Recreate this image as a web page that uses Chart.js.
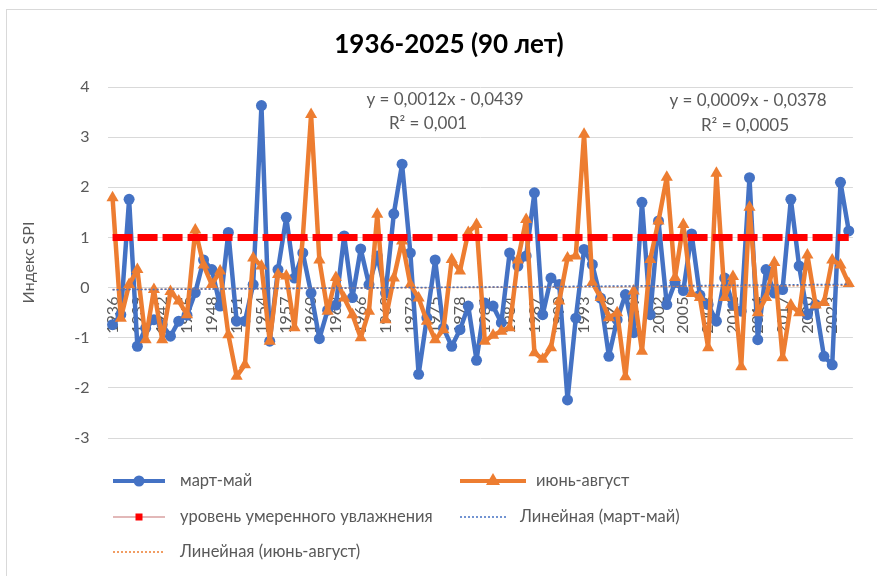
<!DOCTYPE html>
<html>
<head>
<meta charset="utf-8">
<script src="https://cdn.jsdelivr.net/npm/chart.js@4.4.1/dist/chart.umd.min.js"></script>
<style>
  body { margin: 0; background: #fff; }
  #bingkai { position: absolute; left: 6px; top: 9px; width: 900px; height: 600px; border: 1px solid #d9d9d9; }
  #wadah { position: absolute; left: 0; top: 0; width: 877px; height: 576px; }
</style>
</head>
<body>
<div id="bingkai"></div>
<div id="wadah"><canvas id="spi" width="877" height="576"></canvas></div>
<script>
"use strict";

// годы 1936-2025
var tahun = [];
for (var t = 1936; t <= 2025; t++) tahun.push(String(t));

// SPI март-май
var martMai = [
  -0.74, -0.54, 1.76, -1.17, -0.81, -0.64, -0.74, -0.97, -0.67, -0.55,
  -0.1, 0.55, 0.36, -0.37, 1.1, -0.67, -0.67, 0.06, 3.63, -1.07,
  0.36, 1.4, 0.19, 0.69, -0.11, -1.02, -0.45, -0.35, 1.03, -0.2,
  0.77, 0.06, 0.63, -0.11, 1.47, 2.46, 0.69, -1.73, -0.6, 0.55,
  -0.81, -1.17, -0.84, -0.37, -1.45, -0.31, -0.37, -0.7, 0.69, 0.43,
  0.63, 1.89, -0.54, 0.19, 0.06, -2.24, -0.61, 0.76, 0.46, -0.21,
  -1.37, -0.64, -0.14, -0.9, 1.7, -0.54, 1.33, -0.34, 0.1, -0.06,
  1.07, -0.15, -0.34, -0.67, 0.19, -0.34, -0.47, 2.19, -1.04, 0.36,
  -0.11, -0.04, 1.76, 0.43, -0.54, -0.34, -1.37, -1.54, 2.1, 1.13
];

// SPI июнь-август
var iyunAvgust = [
  1.79, -0.61, 0.06, 0.36, -1.04, -0.04, -1.04, -0.08, -0.27, -0.54,
  1.15, 0.45, 0.06, 0.33, -0.94, -1.77, -1.54, 0.59, 0.43, -1.07,
  0.26, 0.23, -0.8, 1.0, 3.45, 0.55, -0.47, 0.2, -0.21, -0.54,
  -1.0, -0.47, 1.46, -0.64, 0.19, 0.93, 0.06, -0.21, -0.67, -1.04,
  -0.84, 0.56, 0.33, 1.1, 1.26, -1.07, -0.95, -0.87, -0.8, 0.55,
  1.36, -1.3, -1.43, -1.2, -0.27, 0.59, 0.63, 3.06, 0.1, -0.2,
  -0.6, -0.5, -1.78, -0.07, -1.27, 0.56, 1.33, 2.2, 0.2, 1.26,
  -0.12, -0.2, -1.2, 2.28, -0.2, 0.22, -1.58, 1.6, -0.5, -0.2,
  0.5, -1.4, -0.35, -0.5, 0.65, -0.35, -0.3, 0.55, 0.45, 0.08
];

// уровень умеренного увлажнения
var urovenVal = 1;

// линейные тренды (коэффициенты из подписи на графике)
var trendMM = { a: 0.0012, b: -0.0439 };
var trendIA = { a: 0.0009, b: -0.0378 };

var uroven = tahun.map(function () { return urovenVal; });
var lineMM = tahun.map(function (_, i) { return trendMM.a * (i + 1) + trendMM.b; });
var lineIA = tahun.map(function (_, i) { return trendIA.a * (i + 1) + trendIA.b; });

var abu = "#595959";
var huruf = "Lato, 'Noto Sans', sans-serif";

// подписи: заголовок, уравнения, легенда
var teksPlugin = {
  id: "teks",
  afterDraw: function (chart) {
    var c = chart.ctx;
    c.save();
    c.textBaseline = "middle";
    c.textAlign = "center";
    c.fillStyle = "#000";
    c.font = "bold 26px " + huruf;
    c.fillText("1936-2025 (90 лет)", 449, 45);

    c.fillStyle = abu;
    c.font = "17px " + huruf;
    c.fillText("y = 0,0012x - 0,0439", 445, 100);
    c.fillText("R² = 0,001", 428, 124);
    c.fillText("y = 0,0009x - 0,0378", 748, 101);
    c.fillText("R² = 0,0005", 745, 126);

    // легенда
    var items = [
      { x: 113, y: 481, w: 52, tx: 180, jenis: "biru", teks: "март-май" },
      { x: 460, y: 481, w: 66, tx: 536, jenis: "oranye", teks: "июнь-август" },
      { x: 113, y: 517, w: 52, tx: 180, jenis: "merah", teks: "уровень умеренного увлажнения" },
      { x: 460, y: 517, w: 48, tx: 520, jenis: "titikBiru", teks: "Линейная (март-май)" },
      { x: 113, y: 552, w: 52, tx: 180, jenis: "titikOranye", teks: "Линейная (июнь-август)" }
    ];
    c.textAlign = "left";
    c.font = "16.5px " + huruf;
    items.forEach(function (it) {
      var cx = it.x + it.w / 2;
      c.setLineDash([]);
      if (it.jenis === "biru") {
        c.strokeStyle = "#4472C4"; c.lineWidth = 4;
        c.beginPath(); c.moveTo(it.x, it.y); c.lineTo(it.x + it.w, it.y); c.stroke();
        c.fillStyle = "#4472C4";
        c.beginPath(); c.arc(cx, it.y, 5.5, 0, Math.PI * 2); c.fill();
      } else if (it.jenis === "oranye") {
        c.strokeStyle = "#ED7D31"; c.lineWidth = 4;
        c.beginPath(); c.moveTo(it.x, it.y); c.lineTo(it.x + it.w, it.y); c.stroke();
        c.fillStyle = "#ED7D31";
        c.beginPath(); c.moveTo(cx, it.y - 8); c.lineTo(cx + 7, it.y + 4); c.lineTo(cx - 7, it.y + 4); c.closePath(); c.fill();
      } else if (it.jenis === "merah") {
        c.strokeStyle = "#d9a0a0"; c.lineWidth = 1.5;
        c.beginPath(); c.moveTo(it.x, it.y); c.lineTo(it.x + it.w, it.y); c.stroke();
        c.fillStyle = "#FF0000";
        c.fillRect(cx - 3.5, it.y - 3.5, 7, 7);
      } else {
        c.strokeStyle = it.jenis === "titikBiru" ? "#4472C4" : "#ED7D31";
        c.lineWidth = 1.5; c.setLineDash([2, 2]);
        c.beginPath(); c.moveTo(it.x, it.y); c.lineTo(it.x + it.w, it.y); c.stroke();
      }
      c.fillStyle = abu;
      c.fillText(it.teks, it.tx, it.y);
    });
    c.restore();
  }
};

var ctx = document.getElementById("spi").getContext("2d");
var grafik = new Chart(ctx, {
  type: "line",
  data: {
    labels: tahun,
    datasets: [
      {
        label: "уровень умеренного увлажнения",
        data: uroven,
        borderColor: "#FF0000",
        borderWidth: 7,
        borderDash: [20, 5],
        pointRadius: 0,
        order: 0
      },
      {
        label: "Линейная (март-май)",
        data: lineMM,
        borderColor: "#4472C4",
        borderWidth: 1.5,
        borderDash: [2, 2],
        pointRadius: 0,
        order: 1
      },
      {
        label: "Линейная (июнь-август)",
        data: lineIA,
        borderColor: "#ED7D31",
        borderWidth: 1.5,
        borderDash: [2, 2],
        pointRadius: 0,
        order: 2
      },
      {
        label: "июнь-август",
        data: iyunAvgust,
        borderColor: "#ED7D31",
        backgroundColor: "#ED7D31",
        borderWidth: 4.5,
        borderJoinStyle: "round",
        borderCapStyle: "round",
        pointStyle: "triangle",
        pointRadius: 7,
        pointBorderWidth: 0,
        order: 3
      },
      {
        label: "март-май",
        data: martMai,
        borderColor: "#4472C4",
        backgroundColor: "#4472C4",
        borderWidth: 4.5,
        borderJoinStyle: "round",
        borderCapStyle: "round",
        pointStyle: "circle",
        pointRadius: 5.5,
        pointBorderWidth: 0,
        order: 4
      }
    ]
  },
  options: {
    responsive: false,
    animation: false,
    layout: { padding: { top: 87, left: 15, right: 7, bottom: 138 } },
    plugins: {
      legend: { display: false },
      title: { display: false },
      tooltip: { enabled: false }
    },
    scales: {
      x: {
        position: { y: 0 },
        offset: true,
        grid: { display: false, drawTicks: false },
        border: { display: true, color: "#d9d9d9" },
        ticks: {
          autoSkip: false,
          minRotation: 90,
          maxRotation: 90,
          padding: 9,
          color: abu,
          font: { family: huruf, size: 16 },
          callback: function (val, i) {
            return i % 3 === 0 ? this.getLabelForValue(val) : "";
          }
        }
      },
      y: {
        min: -3,
        max: 4,
        grid: { color: "#d9d9d9", drawTicks: false },
        border: { display: false },
        ticks: { stepSize: 1, padding: 19, color: abu, font: { family: huruf, size: 16 } },
        title: {
          display: true,
          text: "Индекс SPI",
          color: abu,
          font: { family: huruf, size: 16 },
          padding: { top: 4, bottom: 17 }
        }
      }
    }
  },
  plugins: [teksPlugin]
});
</script>
</body>
</html>
